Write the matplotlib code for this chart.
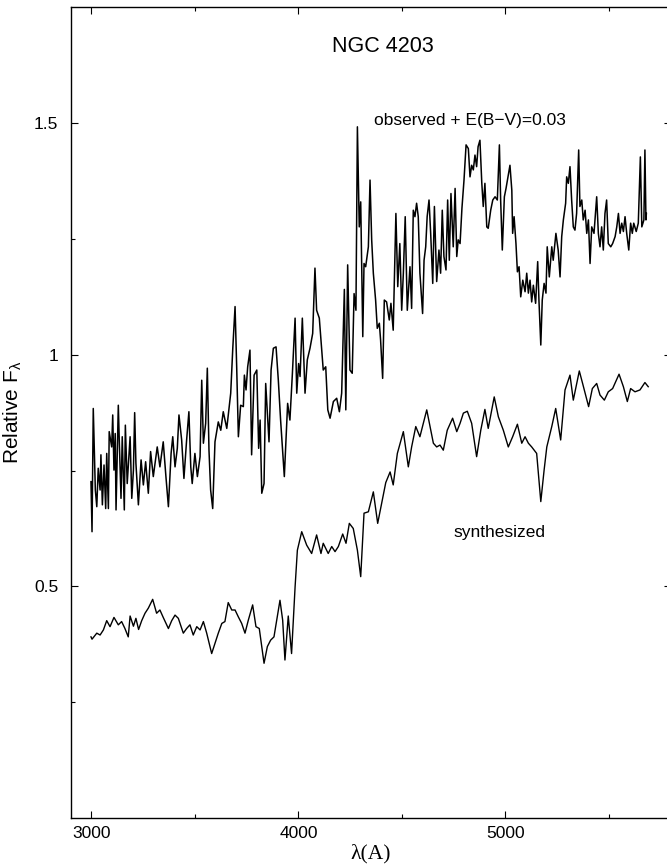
import numpy as np
import matplotlib
matplotlib.use("Agg")
import matplotlib.pyplot as plt
from matplotlib.ticker import FixedLocator

plt.rcParams['font.family'] = ['Liberation Sans', 'DejaVu Sans']
plt.rcParams['mathtext.fontset'] = 'custom'
plt.rcParams['mathtext.rm'] = 'Liberation Sans'
plt.rcParams['mathtext.it'] = 'Liberation Sans'

# observed spectrum
obs_wave = [2998, 3003, 3009, 3019, 3026, 3033, 3042, 3046, 3053, 3061, 3069, 3074,
            3082, 3086, 3098, 3103, 3109, 3115, 3119, 3130, 3135, 3143, 3149, 3159,
            3164, 3173, 3187, 3195, 3203, 3209, 3215, 3227, 3240, 3251, 3262, 3275,
            3286, 3299, 3318, 3331, 3347, 3360, 3372, 3385, 3393, 3404, 3415, 3423,
            3436, 3447, 3460, 3471, 3480, 3487, 3500, 3512, 3525, 3533, 3541, 3552,
            3560, 3568, 3576, 3586, 3597, 3613, 3625, 3637, 3654, 3673, 3683, 3694,
            3702, 3710, 3721, 3734, 3739, 3747, 3755, 3766, 3774, 3786, 3799, 3808,
            3815, 3823, 3834, 3842, 3850, 3858, 3868, 3879, 3892, 3903, 3914, 3932,
            3948, 3959, 3971, 3984, 3992, 4001, 4008, 4019, 4032, 4043, 4056, 4069,
            4080, 4088, 4101, 4120, 4132, 4142, 4153, 4169, 4185, 4198, 4209, 4222,
            4229, 4238, 4249, 4260, 4269, 4278, 4285, 4294, 4301, 4311, 4317, 4325,
            4338, 4346, 4354, 4362, 4373, 4381, 4391, 4397, 4407, 4415, 4426, 4439,
            4447, 4458, 4471, 4480, 4490, 4499, 4507, 4516, 4526, 4539, 4547, 4555,
            4563, 4571, 4579, 4587, 4600, 4607, 4615, 4622, 4631, 4639, 4649, 4657,
            4668, 4679, 4687, 4695, 4703, 4713, 4721, 4729, 4737, 4748, 4757, 4765,
            4772, 4781, 4790, 4800, 4810, 4821, 4829, 4837, 4845, 4853, 4861, 4868,
            4877, 4886, 4893, 4901, 4910, 4917, 4929, 4939, 4950, 4961, 4971, 4977,
            4985, 4995, 5003, 5014, 5022, 5031, 5035, 5042, 5051, 5058, 5066, 5074,
            5084, 5095, 5103, 5111, 5119, 5127, 5135, 5146, 5156, 5162, 5171, 5178,
            5187, 5196, 5202, 5212, 5224, 5231, 5244, 5255, 5264, 5272, 5280, 5291,
            5296, 5304, 5312, 5320, 5328, 5336, 5344, 5354, 5360, 5369, 5376, 5385,
            5393, 5401, 5409, 5417, 5428, 5441, 5449, 5457, 5465, 5473, 5481, 5489,
            5497, 5509, 5518, 5530, 5538, 5546, 5554, 5562, 5570, 5578, 5586, 5596,
            5605, 5613, 5620, 5632, 5642, 5652, 5659, 5669, 5674, 5679, 5681]
obs_flux = [0.726, 0.618, 0.884, 0.708, 0.672, 0.755, 0.708, 0.784, 0.676, 0.762, 0.668, 0.787,
            0.668, 0.834, 0.801, 0.870, 0.751, 0.830, 0.665, 0.891, 0.809, 0.690, 0.823, 0.665,
            0.848, 0.722, 0.823, 0.690, 0.751, 0.875, 0.766, 0.676, 0.773, 0.719, 0.769, 0.701,
            0.791, 0.737, 0.801, 0.758, 0.812, 0.737, 0.672, 0.787, 0.823, 0.758, 0.798, 0.870,
            0.816, 0.733, 0.816, 0.877, 0.758, 0.722, 0.787, 0.737, 0.780, 0.945, 0.809, 0.852,
            0.971, 0.794, 0.708, 0.668, 0.812, 0.855, 0.837, 0.877, 0.841, 0.917, 1.014, 1.104,
            0.971, 0.823, 0.891, 0.888, 0.956, 0.924, 0.974, 1.010, 0.784, 0.956, 0.967, 0.798,
            0.859, 0.701, 0.722, 0.938, 0.873, 0.812, 0.967, 1.014, 1.017, 0.945, 0.859, 0.737,
            0.895, 0.859, 0.960, 1.079, 0.917, 0.981, 0.953, 1.079, 0.917, 0.989, 1.014, 1.046,
            1.187, 1.096, 1.079, 0.967, 0.974, 0.881, 0.863, 0.899, 0.906, 0.877, 0.917, 1.141,
            0.881, 1.194, 0.967, 0.960, 1.132, 1.096, 1.492, 1.276, 1.330, 1.039, 1.197, 1.190,
            1.233, 1.377, 1.248, 1.176, 1.118, 1.057, 1.068, 1.032, 0.949, 1.118, 1.114, 1.075,
            1.111, 1.053, 1.305, 1.147, 1.240, 1.096, 1.176, 1.298, 1.096, 1.190, 1.100, 1.312,
            1.298, 1.327, 1.298, 1.176, 1.089, 1.204, 1.233, 1.298, 1.334, 1.262, 1.154, 1.320,
            1.158, 1.226, 1.176, 1.312, 1.212, 1.183, 1.334, 1.204, 1.348, 1.233, 1.359, 1.212,
            1.248, 1.240, 1.316, 1.377, 1.453, 1.445, 1.384, 1.409, 1.399, 1.431, 1.406, 1.449,
            1.463, 1.370, 1.320, 1.370, 1.276, 1.273, 1.312, 1.334, 1.341, 1.334, 1.453, 1.334,
            1.226, 1.341, 1.359, 1.388, 1.409, 1.355, 1.262, 1.298, 1.240, 1.179, 1.190, 1.125,
            1.161, 1.136, 1.176, 1.133, 1.161, 1.114, 1.150, 1.111, 1.201, 1.118, 1.021, 1.118,
            1.154, 1.133, 1.233, 1.168, 1.233, 1.204, 1.262, 1.226, 1.168, 1.255, 1.291, 1.327,
            1.384, 1.370, 1.406, 1.334, 1.276, 1.269, 1.305, 1.442, 1.320, 1.334, 1.291, 1.312,
            1.262, 1.291, 1.197, 1.276, 1.262, 1.341, 1.262, 1.233, 1.276, 1.226, 1.305, 1.334,
            1.240, 1.233, 1.240, 1.255, 1.276, 1.305, 1.262, 1.284, 1.266, 1.298, 1.262, 1.226,
            1.284, 1.262, 1.284, 1.266, 1.284, 1.427, 1.276, 1.291, 1.442, 1.291, 1.305]

# synthesized spectrum
syn_wave = [2998, 3003, 3026, 3042, 3058, 3074, 3090, 3109, 3130, 3146, 3162, 3178,
            3187, 3203, 3215, 3228, 3243, 3259, 3275, 3296, 3315, 3331, 3347, 3372,
            3388, 3404, 3420, 3444, 3460, 3476, 3492, 3509, 3525, 3541, 3557, 3581,
            3597, 3613, 3630, 3645, 3661, 3678, 3694, 3710, 3726, 3742, 3758, 3779,
            3795, 3811, 3834, 3850, 3866, 3882, 3895, 3911, 3924, 3935, 3951, 3967,
            3984, 3995, 4016, 4040, 4064, 4088, 4109, 4120, 4144, 4161, 4177, 4193,
            4214, 4230, 4246, 4265, 4285, 4301, 4317, 4338, 4362, 4383, 4402, 4422,
            4443, 4458, 4478, 4507, 4531, 4547, 4567, 4587, 4620, 4636, 4652, 4668,
            4684, 4700, 4719, 4745, 4765, 4781, 4797, 4816, 4837, 4861, 4881, 4901,
            4917, 4946, 4966, 4990, 5014, 5035, 5058, 5079, 5095, 5111, 5127, 5151,
            5171, 5187, 5200, 5224, 5243, 5267, 5288, 5312, 5328, 5357, 5373, 5402,
            5420, 5441, 5457, 5478, 5497, 5518, 5549, 5570, 5589, 5605, 5626, 5650,
            5674, 5690]
syn_flux = [0.391, 0.386, 0.399, 0.395, 0.406, 0.426, 0.413, 0.433, 0.417, 0.424, 0.409, 0.391,
            0.436, 0.414, 0.431, 0.407, 0.426, 0.442, 0.453, 0.472, 0.442, 0.449, 0.433, 0.409,
            0.426, 0.438, 0.431, 0.399, 0.409, 0.417, 0.395, 0.413, 0.406, 0.424, 0.399, 0.355,
            0.377, 0.399, 0.420, 0.424, 0.465, 0.449, 0.449, 0.434, 0.420, 0.399, 0.427, 0.460,
            0.413, 0.409, 0.334, 0.370, 0.384, 0.391, 0.427, 0.470, 0.427, 0.341, 0.436, 0.355,
            0.499, 0.578, 0.618, 0.589, 0.571, 0.611, 0.571, 0.593, 0.571, 0.586, 0.575, 0.586,
            0.613, 0.593, 0.636, 0.625, 0.578, 0.521, 0.658, 0.661, 0.704, 0.636, 0.679, 0.724,
            0.747, 0.719, 0.787, 0.834, 0.758, 0.801, 0.845, 0.823, 0.881, 0.845, 0.809, 0.801,
            0.805, 0.794, 0.837, 0.863, 0.834, 0.852, 0.874, 0.878, 0.852, 0.780, 0.837, 0.882,
            0.841, 0.909, 0.866, 0.837, 0.801, 0.823, 0.850, 0.809, 0.823, 0.809, 0.801, 0.787,
            0.683, 0.751, 0.801, 0.845, 0.884, 0.816, 0.924, 0.956, 0.902, 0.965, 0.938, 0.888,
            0.927, 0.938, 0.913, 0.902, 0.920, 0.927, 0.958, 0.931, 0.899, 0.927, 0.920, 0.924,
            0.940, 0.931]

fig = plt.figure(figsize=(6.67, 8.68), dpi=100)
ax = fig.add_axes([0.106, 0.0576, 0.9, 0.934])

ax.plot(obs_wave, obs_flux, color='black', lw=1.1)
ax.plot(syn_wave, syn_flux, color='black', lw=1.0)

ax.set_xlim(2900, 5800)
ax.set_ylim(0, 1.75)

ax.xaxis.set_major_locator(FixedLocator([3000, 4000, 5000]))
ax.xaxis.set_minor_locator(FixedLocator([3500, 4500, 5500]))
ax.yaxis.set_major_locator(FixedLocator([0.5, 1.0, 1.5]))
ax.yaxis.set_minor_locator(FixedLocator([0.25, 0.75, 1.25]))
ax.set_xticklabels(['3000', '4000', '5000'])
ax.set_yticklabels(['0.5', '1', '1.5'])
ax.tick_params(which='both', direction='in', top=True, right=True, labelsize=12.5, width=0.8)
ax.tick_params(axis='x', which='major', length=5, pad=6)
ax.tick_params(axis='y', which='major', length=5, pad=9)
ax.tick_params(which='minor', length=3)

for s in ax.spines.values():
    s.set_linewidth(1.0)

fig.text(383 / 667, 1 - 47 / 868, 'NGC 4203', fontsize=15.5, ha='center', va='center')
fig.text(470 / 667, 1 - 120 / 868, 'observed + E(B\u2212V)=0.03', fontsize=12.5, ha='center', va='center')
fig.text(499 / 667, 1 - 533 / 868, 'synthesized', fontsize=12.5, ha='center', va='center')

ax.set_xlabel('\u03bb(A)', family=['Liberation Serif', 'DejaVu Serif'], fontsize=15.5, labelpad=2)
ax.yaxis.set_label_coords(-0.078, 0.5)
ax.set_ylabel(r'Relative F$_\lambda$', fontsize=15)

fig.savefig('out.png', dpi=100)
